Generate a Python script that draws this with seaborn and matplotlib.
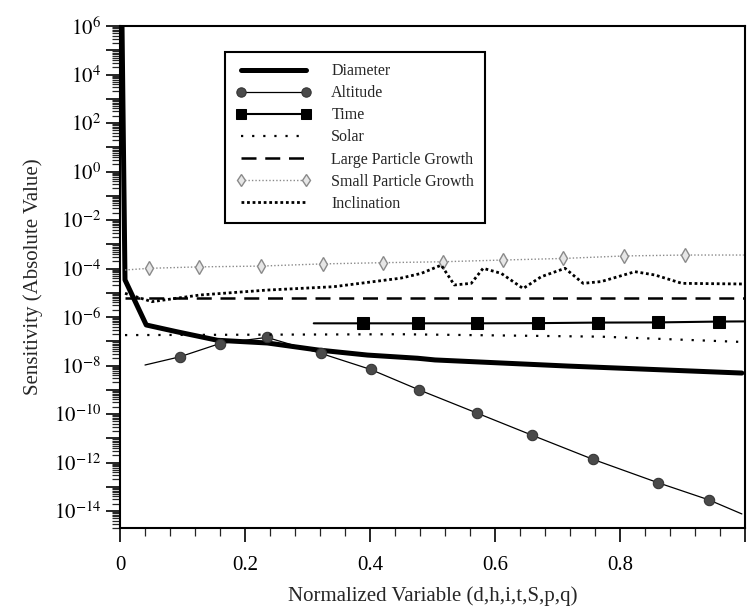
import matplotlib
matplotlib.use("Agg")
import matplotlib.pyplot as plt
import matplotlib.ticker as mticker
import seaborn as sns
import numpy as np

# ---------------- data ----------------
diameter_x = [0.003, 0.008, 0.042, 0.09, 0.156, 0.236, 0.316, 0.396, 0.476, 0.504, 0.717, 0.995]
diameter_y = [3e6, 3.4e-5, 4.7e-7, 2.5e-7, 1.1e-7, 8.5e-8, 4.4e-8, 2.7e-8, 2.0e-8, 1.7e-8, 9.5e-9, 4.9e-9]

altitude_x = [0.04, 0.096, 0.16, 0.235, 0.321, 0.401, 0.479, 0.571, 0.659, 0.757, 0.860, 0.942, 0.995]
altitude_y = [1.05e-8, 2.3e-8, 8.1e-8, 1.45e-7, 3.2e-8, 6.9e-9, 9.8e-10, 1.1e-10,
              1.35e-11, 1.35e-12, 1.5e-13, 2.9e-14, 7.6e-15]

time_x = [0.31, 0.388, 0.476, 0.572, 0.669, 0.765, 0.861, 0.958, 1.0]
time_y = [5.5e-7, 5.5e-7, 5.5e-7, 5.5e-7, 5.6e-7, 5.9e-7, 6.0e-7, 6.5e-7, 6.6e-7]

solar_x = [0.008, 0.45, 0.77, 0.99]
solar_y = [1.8e-7, 1.95e-7, 1.55e-7, 9.5e-8]

large_x = [0.008, 0.998]
large_y = [6.0e-6, 6.0e-6]

small_x = [0.008, 0.047, 0.126, 0.225, 0.324, 0.420, 0.516, 0.613, 0.709, 0.807, 0.904, 0.998]
small_y = [8.7e-5, 1.02e-4, 1.17e-4, 1.26e-4, 1.55e-4, 1.74e-4, 1.9e-4, 2.24e-4,
           2.6e-4, 3.3e-4, 3.6e-4, 3.6e-4]

incl_x = [0.008, 0.051, 0.128, 0.235, 0.342, 0.449, 0.482, 0.514, 0.535, 0.562, 0.581,
          0.610, 0.645, 0.674, 0.712, 0.741, 0.770, 0.824, 0.856, 0.899, 0.998]
incl_y = [9.5e-6, 4.3e-6, 8.1e-6, 1.29e-5, 1.78e-5, 4.0e-5, 6.3e-5, 1.38e-4, 2.1e-5, 2.45e-5,
          1.02e-4, 6.3e-5, 1.5e-5, 4.6e-5, 1.02e-4, 2.45e-5, 2.9e-5, 7.4e-5, 5.4e-5, 2.45e-5, 2.3e-5]

x_ticks = [0, 0.2, 0.4, 0.6, 0.8, 1.0]
x_tick_labels = ["0", "0.2", "0.4", "0.6", "0.8", ""]
y_decades = list(range(-14, 7))

# ---------------- style ----------------
sns.set_theme(style="ticks")
plt.rcParams["font.family"] = ["Liberation Serif", "DejaVu Serif"]
plt.rcParams["mathtext.fontset"] = "stix"
plt.rcParams["legend.numpoints"] = 2

fig = plt.figure(figsize=(7.49, 6.12), dpi=100)
ax = fig.add_axes([120 / 749, (612 - 528) / 612, 625 / 749, 502 / 612])
ax.set_yscale("log")

sns.lineplot(x=diameter_x, y=diameter_y, ax=ax, color="black", linewidth=3.6,
             label="Diameter", sort=False)
sns.lineplot(x=altitude_x, y=altitude_y, ax=ax, color="black", linewidth=0.9,
             marker="o", markersize=7.5, markerfacecolor="#4a4a4a", markeredgecolor="#333333",
             markevery=list(range(1, len(altitude_x) - 1)), label="Altitude", sort=False)
sns.lineplot(x=time_x, y=time_y, ax=ax, color="black", linewidth=1.5,
             marker="s", markersize=8.5, markerfacecolor="black", markeredgecolor="black",
             markevery=list(range(1, len(time_x) - 1)), label="Time", sort=False)
sns.lineplot(x=solar_x, y=solar_y, ax=ax, color="black", linewidth=1.6,
             linestyle=(0, (1, 4)), label="Solar", sort=False)
sns.lineplot(x=large_x, y=large_y, ax=ax, color="black", linewidth=1.8,
             linestyle=(0, (6, 3.5)), label="Large Particle Growth", sort=False)
sns.lineplot(x=small_x, y=small_y, ax=ax, color="#8a8a8a", linewidth=1.0,
             linestyle=(0, (1, 1.5)), marker="d", markersize=7, markerfacecolor="#e6e6e6",
             markeredgecolor="#8a8a8a", markeredgewidth=1.0,
             markevery=list(range(1, len(small_x) - 1)), label="Small Particle Growth", sort=False)
sns.lineplot(x=incl_x, y=incl_y, ax=ax, color="black", linewidth=2.0,
             linestyle=(0, (1, 1)), label="Inclination", sort=False)

# ---------------- axes ----------------
ax.set_xlim(0, 1.0)
ax.set_ylim(2e-15, 1e6)

ax.set_xticks(x_ticks)
ax.set_xticklabels(x_tick_labels)
ax.xaxis.set_minor_locator(mticker.MultipleLocator(0.04))

ax.yaxis.set_major_locator(mticker.FixedLocator([10.0 ** k for k in y_decades]))
ax.yaxis.set_major_formatter(mticker.FixedFormatter(
    [(r"$10^{%d}$" % k) if k % 2 == 0 else "" for k in y_decades]))
ax.yaxis.set_minor_locator(mticker.LogLocator(base=10, subs=np.arange(2, 10), numticks=100))
ax.yaxis.set_minor_formatter(mticker.NullFormatter())

ax.tick_params(axis="both", which="major", direction="out", length=10, width=1.2,
               labelsize=15, colors="black")
ax.tick_params(axis="both", which="minor", direction="out", length=6, width=0.9)
ax.tick_params(axis="x", which="major", pad=10)

for s in ax.spines.values():
    s.set_visible(True)
    s.set_color("black")
    s.set_linewidth(1.5)

ax.set_facecolor("white")
fig.patch.set_facecolor("white")
ax.grid(False)

ax.set_xlabel("Normalized Variable (d,h,i,t,S,p,q)", fontsize=15, labelpad=8)
ax.set_ylabel("Sensitivity (Absolute Value)", fontsize=15, labelpad=8)

leg = ax.legend(loc="upper left", bbox_to_anchor=(0.168, 0.948), borderaxespad=0,
                fontsize=11.5, frameon=True, fancybox=False, edgecolor="black",
                handlelength=4.7, handletextpad=1.25, labelspacing=0.38,
                borderpad=0.7, markerscale=0.9)
leg.get_frame().set_linewidth(1.5)
leg.get_frame().set_alpha(1)

fig.savefig("out.png", dpi=100, facecolor="white")
